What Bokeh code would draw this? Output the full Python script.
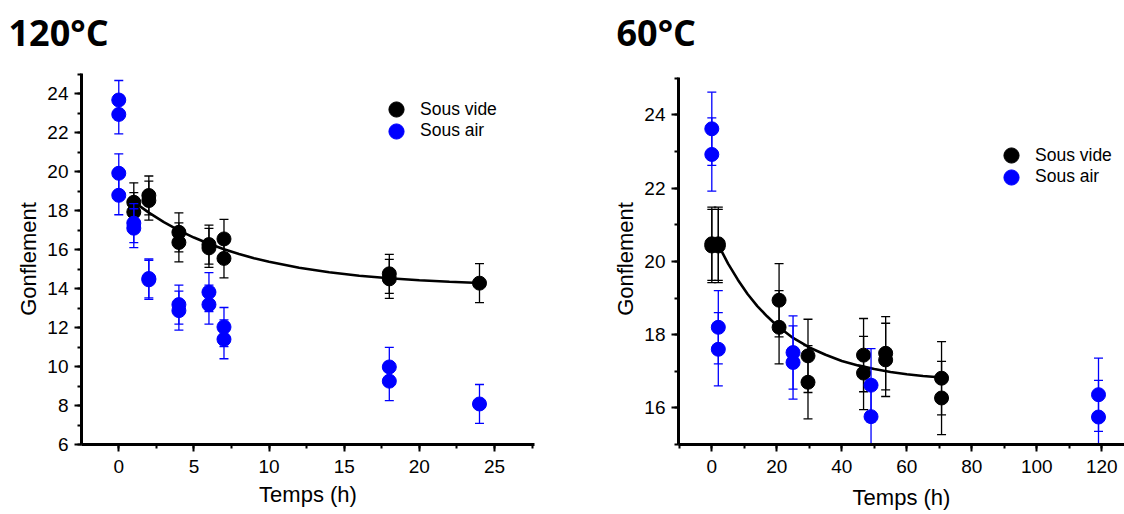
from bokeh.plotting import figure
from bokeh.layouts import row
from bokeh.models import (ColumnDataSource, SingleIntervalTicker, Range1d,
                          Legend, LegendItem, Title)
from bokeh.embed import file_html
from bokeh.resources import INLINE

# ---------------- data: 120 °C ----------------
t120_vide_x = [1, 1, 2, 2, 4, 4, 6, 6, 7, 7, 18, 18, 24]
t120_vide_y = [18.43, 17.93, 18.78, 18.52, 16.89, 16.37, 16.26, 16.09, 16.55, 15.55, 14.76, 14.50, 14.28]
t120_vide_err = [1.0, 1.0, 1.0, 1.0, 1.0, 1.0, 1.0, 1.0, 1.0, 1.0, 1.0, 1.0, 1.0]

t120_air_x = [0, 0, 0, 0, 1, 1, 2, 2, 4, 4, 6, 6, 7, 7, 18, 18, 24]
t120_air_y = [23.68, 22.94, 19.92, 18.79, 17.36, 17.10, 14.52, 14.45, 13.18, 12.87,
              13.82, 13.18, 12.03, 11.40, 9.98, 9.25, 8.08]
t120_air_err = [1.0, 1.0, 1.0, 1.0, 1.0, 1.0, 1.0, 1.0, 1.0, 1.0, 1.0, 1.0, 1.0, 1.0, 1.0, 1.0, 1.0]

fit120_x = [1, 2, 3, 4, 5, 6, 7, 8, 9, 10, 12, 14, 16, 18, 20, 22, 24]
fit120_y = [18.45, 17.90, 17.41, 16.99, 16.62, 16.30, 16.02, 15.78, 15.56, 15.38,
            15.07, 14.84, 14.66, 14.53, 14.43, 14.35, 14.29]

# ---------------- data: 60 °C ----------------
t60_vide_x = [0, 0, 2, 2, 20.7, 20.7, 29.6, 29.6, 46.7, 46.7, 53.5, 53.5, 70.7, 70.7]
t60_vide_y = [20.48, 20.42, 20.48, 20.42, 18.94, 18.20, 17.42, 16.70, 17.44, 16.95,
              17.49, 17.31, 16.81, 16.27]
t60_vide_err = [1.0, 1.0, 1.0, 1.0, 1.0, 1.0, 1.0, 1.0, 1.0, 1.0, 1.0, 1.0, 1.0, 1.0]

t60_air_x = [0, 0, 2, 2, 25, 25, 49, 49, 119, 119]
t60_air_y = [23.62, 22.92, 18.20, 17.60, 17.51, 17.24, 16.62, 15.76, 16.36, 15.75]
t60_air_err = [1.0, 1.0, 1.0, 1.0, 1.0, 1.0, 1.0, 1.0, 1.0, 1.0]

fit60_x = [2, 5, 8, 11, 14, 17, 20, 25, 30, 35, 40, 45, 50, 55, 60, 65, 70.7]
fit60_y = [20.45, 19.94, 19.50, 19.11, 18.78, 18.50, 18.25, 17.91, 17.65, 17.45,
           17.28, 17.16, 17.06, 16.98, 16.92, 16.87, 16.83]

labels = ["Sous vide", "Sous air"]
titles = ["120°C", "60°C"]
x_label = "Temps (h)"
y_label = "Gonflement"

BLACK = "#000000"
BLUE = "#0000FF"
TICK_FONT = "Liberation Sans"


def err_source(xs, ys, es):
    lo = [y - e for y, e in zip(ys, es)]
    hi = [y + e for y, e in zip(ys, es)]
    return ColumnDataSource(dict(x=xs, y=ys, lo=lo, hi=hi))


def make_legend(label, renderer, loc):
    return Legend(items=[LegendItem(label=label, renderers=[renderer])],
                  location=loc, orientation="vertical",
                  glyph_width=38, glyph_height=38, spacing=0,
                  padding=0, margin=0, label_standoff=5,
                  label_text_font=TICK_FONT, label_text_font_size="17.5px",
                  label_text_color=BLACK,
                  border_line_alpha=0, background_fill_alpha=0)


def make_panel(title, vx, vy, ve, ax, ay, ae, fx, fy, xr, yr, ybounds, xint,
               width, mb_left, mb_right, title_offset, legend_locs, xlabel_standoff):
    p = figure(width=width, height=514, output_backend="svg",
               toolbar_location=None, x_range=Range1d(*xr), y_range=Range1d(*yr),
               min_border_left=mb_left, min_border_right=mb_right,
               min_border_top=73, min_border_bottom=70)
    p.outline_line_color = None
    p.xgrid.grid_line_color = None
    p.ygrid.grid_line_color = None
    p.background_fill_color = "white"
    p.border_fill_color = "white"

    xaxis = p.below[0]
    yaxis = p.left[0]

    # blank spacer between the frame and the panel title (keeps the title high)
    p.add_layout(Title(text=" ", text_font_size="1px", standoff=14), "above")
    p.add_layout(Title(text=title, align="left", vertical_align="bottom",
                       offset=title_offset, standoff=0,
                       text_font="Open Sans", text_font_style="bold",
                       text_font_size="36px", text_color=BLACK), "above")

    xaxis.ticker = SingleIntervalTicker(interval=xint, num_minor_ticks=2)
    yaxis.ticker = SingleIntervalTicker(interval=2, num_minor_ticks=2)
    yaxis.bounds = ybounds
    for ax_ in (xaxis, yaxis):
        ax_.axis_line_width = 3
        ax_.axis_line_color = BLACK
        ax_.major_tick_line_width = 2
        ax_.minor_tick_line_width = 2
        ax_.major_tick_line_color = BLACK
        ax_.minor_tick_line_color = BLACK
        ax_.major_tick_out = 7
        ax_.major_tick_in = 0
        ax_.minor_tick_out = 4
        ax_.minor_tick_in = 0
        ax_.major_label_text_font = TICK_FONT
        ax_.major_label_text_font_size = "19px"
        ax_.major_label_text_color = BLACK
        ax_.axis_label_text_font = TICK_FONT
        ax_.axis_label_text_font_size = "22px"
        ax_.axis_label_text_font_style = "normal"
        ax_.axis_label_text_color = BLACK
    xaxis.major_label_standoff = 8
    yaxis.major_label_standoff = 6
    xaxis.axis_label = x_label
    yaxis.axis_label = y_label
    xaxis.axis_label_standoff = xlabel_standoff
    yaxis.axis_label_standoff = 3

    vs = err_source(vx, vy, ve)
    as_ = err_source(ax, ay, ae)

    # black error bars
    p.segment(x0="x", y0="lo", x1="x", y1="hi", source=vs, line_color=BLACK, line_width=1.3)
    p.scatter(x="x", y="lo", source=vs, marker="dash", size=9, line_color=BLACK, line_width=1.3)
    p.scatter(x="x", y="hi", source=vs, marker="dash", size=9, line_color=BLACK, line_width=1.3)
    # fit curve
    p.line(fx, fy, line_color=BLACK, line_width=2.6)
    r_vide = p.scatter(x="x", y="y", source=vs, marker="circle", size=14,
                       fill_color=BLACK, line_color=BLACK, line_width=1)
    # blue error bars
    p.segment(x0="x", y0="lo", x1="x", y1="hi", source=as_, line_color=BLUE, line_width=1.3)
    p.scatter(x="x", y="lo", source=as_, marker="dash", size=9, line_color=BLUE, line_width=1.3)
    p.scatter(x="x", y="hi", source=as_, marker="dash", size=9, line_color=BLUE, line_width=1.3)
    r_air = p.scatter(x="x", y="y", source=as_, marker="circle", size=14,
                      fill_color=BLUE, line_color=BLUE, line_width=1)

    p.add_layout(make_legend(labels[0], r_vide, legend_locs[0]))
    p.add_layout(make_legend(labels[1], r_air, legend_locs[1]))
    return p


p1 = make_panel(titles[0], t120_vide_x, t120_vide_y, t120_vide_err,
                t120_air_x, t120_air_y, t120_air_err, fit120_x, fit120_y,
                xr=(-2.48, 27.66), yr=(6, 25.04), ybounds=(6, 25.04), xint=5,
                width=560, mb_left=81, mb_right=26, title_offset=-73,
                legend_locs=[(296, 315.7), (296, 294.3)], xlabel_standoff=6)

p2 = make_panel(titles[1], t60_vide_x, t60_vide_y, t60_vide_err,
                t60_air_x, t60_air_y, t60_air_err, fit60_x, fit60_y,
                xr=(-10.25, 127.0), yr=(15, 25.13), ybounds=(15, 25.02), xint=20,
                width=564, mb_left=118, mb_right=0, title_offset=-62,
                legend_locs=[(314, 270), (314, 248.3)], xlabel_standoff=9)

layout = row(p1, p2, spacing=0)
open("out.html", "w").write(file_html(layout, INLINE))
